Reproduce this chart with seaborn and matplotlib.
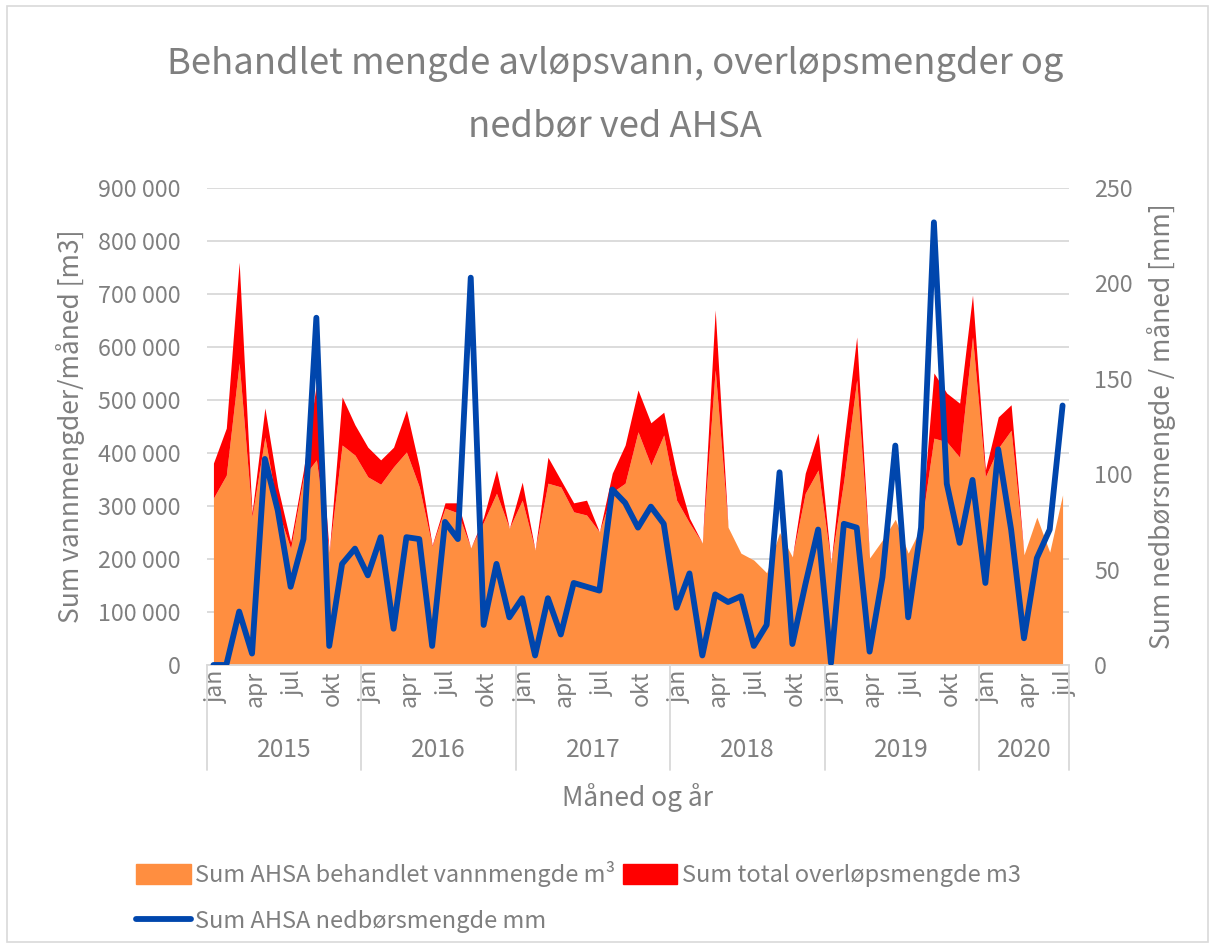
import matplotlib
matplotlib.use("Agg")
import matplotlib.pyplot as plt
import matplotlib.transforms as mtransforms
from matplotlib.patches import Patch, Rectangle
from matplotlib.lines import Line2D
import numpy as np
import pandas as pd
import seaborn as sns

# monthly values jan 2015 - jul 2020
years = [2015, 2016, 2017, 2018, 2019, 2020]
months_per_year = [12, 12, 12, 12, 12, 7]
month_names = ["jan", "feb", "mar", "apr", "mai", "jun", "jul", "aug", "sep", "okt", "nov", "des"]

treated = [315000, 358000, 570000, 280000, 430000, 292000, 220000, 355000, 387000, 213000, 415000, 396000,
           355000, 341000, 374000, 402000, 336000, 224000, 296000, 287000, 221000, 270000, 324000, 258000,
           311000, 217000, 343000, 336000, 289000, 283000, 251000, 326000, 343000, 440000, 377000, 434000,
           311000, 268000, 230000, 557000, 260000, 211000, 198000, 174000, 250000, 204000, 324000, 368000,
           192000, 349000, 538000, 202000, 236000, 275000, 211000, 260000, 428000, 421000, 392000, 619000,
           355000, 409000, 443000, 208000, 279000, 213000, 321000]
overflow = [66000, 89000, 190000, 7000, 55000, 44000, 12000, 13000, 143000, 0, 91000, 57000,
            56000, 46000, 37000, 79000, 38000, 2000, 10000, 19000, 0, 9000, 44000, 0,
            34000, 0, 49000, 13000, 17000, 28000, 0, 36000, 72000, 79000, 80000, 43000,
            51000, 9000, 0, 113000, 0, 0, 0, 0, 0, 0, 38000, 70000,
            0, 70000, 81000, 0, 0, 0, 0, 0, 123000, 92000, 102000, 79000,
            13000, 59000, 48000, 0, 0, 0, 0]
precip = [0, 0, 28, 6, 108, 81, 41, 66, 182, 10, 53, 61,
          47, 67, 19, 67, 66, 10, 75, 66, 203, 21, 53, 25,
          35, 5, 35, 16, 43, 41, 39, 92, 85, 72, 83, 74,
          30, 48, 5, 37, 33, 36, 10, 21, 101, 11, 42, 71,
          1, 74, 72, 7, 46, 115, 25, 72, 232, 95, 64, 97,
          43, 113, 71, 14, 56, 71, 136]

rows = []
for y, n in zip(years, months_per_year):
    for m in range(n):
        rows.append((y, month_names[m]))
df = pd.DataFrame(rows, columns=["year", "month"])
df["idx"] = np.arange(len(df))
df["treated"] = treated
df["overflow"] = overflow
df["total"] = df["treated"] + df["overflow"]
df["precip"] = precip

grey = "#7F7F7F"
orange = "#FF8E40"
red = "#FF0000"
blue = "#0046AD"

sns.set_theme(style="white")
plt.rcParams["font.family"] = ["Noto Sans CJK JP", "DejaVu Sans"]

fig = plt.figure(figsize=(12.15, 9.48), dpi=100)
fig.patches.append(Rectangle((0.006, 0.006), 0.988, 0.988, transform=fig.transFigure,
                             fill=False, edgecolor="#D9D9D9", linewidth=1.2))

ax = fig.add_axes([207 / 1215, 1 - 665 / 948, 862 / 1215, 477 / 948])
ax2 = ax.twinx()

ax.fill_between(df["idx"], 0, df["treated"], color=orange, linewidth=0, zorder=2)
ax.fill_between(df["idx"], df["treated"], df["total"], color=red, linewidth=0, zorder=2)
ax.set_ylim(0, 900000)
ax.set_xlim(-0.5, len(df) - 0.5)
ax.set_yticks(np.arange(0, 900001, 100000))
ax.set_yticklabels([f"{v:,}".replace(",", " ") for v in range(0, 900001, 100000)])
ax.yaxis.grid(True, color="#D9D9D9", linewidth=1.3, zorder=0)
ax.set_axisbelow(True)

sns.lineplot(data=df, x="idx", y="precip", ax=ax2, color=blue, linewidth=4.2,
             solid_capstyle="round", solid_joinstyle="round")
ax2.set_ylim(0, 250)
ax2.set_yticks(np.arange(0, 251, 50))
ax2.set_xlim(-0.5, len(df) - 0.5)
ax2.set_xlabel("")
ax2.set_ylabel("Sum nedbørsmengde / måned [mm]", color=grey, fontsize=19, labelpad=10)
ax.set_ylabel("Sum vannmengder/måned [m3]", color=grey, fontsize=19, labelpad=9)

for a in (ax, ax2):
    for s in a.spines.values():
        s.set_visible(False)
    a.tick_params(axis="both", length=0, labelsize=16.8, colors=grey, pad=19)
ax2.tick_params(axis="y", pad=18)
ax.spines["bottom"].set_visible(True)
ax.spines["bottom"].set_color("#D9D9D9")

# category axis: month labels, year groups
sel = df[df["month"].isin(["jan", "apr", "jul", "okt"])]
ax.set_xticks(sel["idx"])
ax.set_xticklabels(sel["month"], rotation=90, fontsize=16.5, color=grey)
ax.tick_params(axis="x", pad=4)
shift = mtransforms.ScaledTranslation(3 / 100, 0, fig.dpi_scale_trans)
for lbl in ax.get_xticklabels():
    lbl.set_transform(lbl.get_transform() + shift)

trans = mtransforms.blended_transform_factory(ax.transData, ax.transAxes)
start = -0.5
for y, n in zip(years, months_per_year):
    ax.plot([start, start], [0, -0.22], transform=trans, color="#D9D9D9", lw=1.3, clip_on=False)
    ax.text(start + n / 2, -0.178, str(y), transform=trans, ha="center", va="center",
            fontsize=17.7, color=grey)
    start += n
ax.plot([start, start], [0, -0.22], transform=trans, color="#D9D9D9", lw=1.3, clip_on=False)

ax.text(0.5, -0.277, "Måned og år", transform=ax.transAxes, ha="center", va="center",
        fontsize=19, color=grey)

fig.text(0.506, 0.9, "Behandlet mengde avløpsvann, overløpsmengder og\nnedbør ved AHSA",
         ha="center", va="center", fontsize=26.2, color=grey, linespacing=1.95)

handles = [Patch(color=orange, label="Sum AHSA behandlet vannmengde m³"),
           Line2D([0], [0], color=blue, lw=4.2, solid_capstyle="round", label="Sum AHSA nedbørsmengde mm"),
           Patch(color=red, label="Sum total overløpsmengde m3")]
leg = fig.legend(handles=handles, ncol=2, loc="upper left",
                 frameon=False, fontsize=17, labelcolor=grey, handlelength=2.3, handleheight=0.9,
                 handletextpad=0.2, columnspacing=0.3, labelspacing=0.98)
leg.set_bbox_to_anchor((115 / 1215, 1 - 840 / 948), transform=fig.transFigure)

fig.savefig("out.png", dpi=100)
